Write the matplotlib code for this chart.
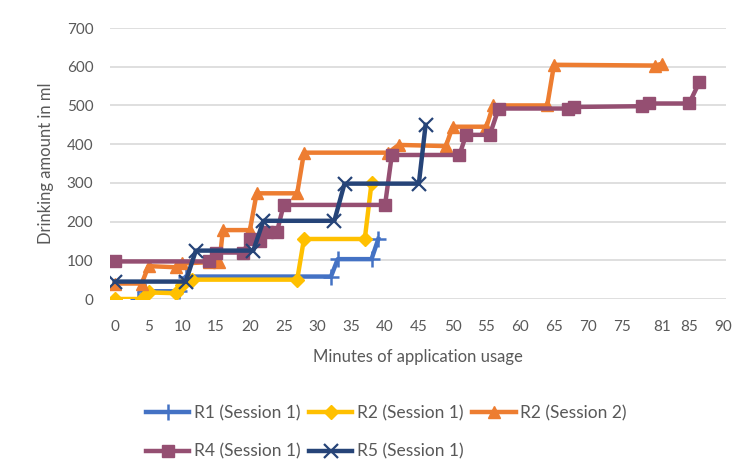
import matplotlib
matplotlib.use("Agg")
import matplotlib.pyplot as plt

# ---- data ----
r1_x = [3.5, 4.5, 9.5, 10.5, 32, 33, 38, 39]
r1_y = [0, 20, 20, 58, 58, 103, 103, 155]

r2s1_x = [0, 4, 5, 9, 10, 11.5, 27, 28, 37, 38]
r2s1_y = [0, 0, 17, 15, 35, 50, 50, 155, 155, 300]

r2s2_x = [0, 4, 5, 9, 10, 14, 15.5, 16, 20, 21, 27, 28, 40.5, 42, 49, 50, 55, 56, 64, 65, 80, 81]
r2s2_y = [40, 40, 85, 82, 92, 95, 95, 178, 178, 273, 273, 378, 378, 398, 395, 445, 445, 500, 500, 605, 603, 608]

r4_x = [0, 14, 15, 19, 20, 21.5, 22.5, 24, 25, 40, 41, 51, 52, 55.5, 56.8, 67, 68, 78, 79, 85, 86.5]
r4_y = [97, 97, 120, 120, 155, 150, 173, 173, 243, 243, 372, 372, 424, 424, 492, 492, 496, 498, 505, 505, 560]

r5_x = [0, 10.5, 12, 20.5, 22, 32.5, 34, 45, 46]
r5_y = [45, 45, 125, 125, 202, 202, 298, 298, 450]

x_ticks = [0, 5, 10, 15, 20, 25, 30, 35, 40, 45, 50, 55, 60, 65, 70, 75, 81, 85, 90]
y_ticks = [0, 100, 200, 300, 400, 500, 600, 700]

labels = ["R1 (Session 1)", "R2 (Session 1)", "R2 (Session 2)", "R4 (Session 1)", "R5 (Session 1)"]

plt.rcParams['font.family'] = ['Lato', 'DejaVu Sans']
txt = '#595959'

W, H = 747, 473
fig = plt.figure(figsize=(W/100, H/100), dpi=100)
ax = fig.add_axes([110/W, 1-299/H, 616/W, 271/H])

lw = 3.2
h1, = ax.plot(r1_x, r1_y, color='#4472C4', lw=lw, marker='+', ms=11, mew=1.8, label=labels[0], zorder=3)
h2, = ax.plot(r2s1_x, r2s1_y, color='#FFC000', lw=lw, marker='D', ms=7, label=labels[1], zorder=4)
h3, = ax.plot(r2s2_x, r2s2_y, color='#ED7D31', lw=lw, marker='^', ms=9, label=labels[2], zorder=5)
h4, = ax.plot(r4_x, r4_y, color='#954F72', lw=lw, marker='s', ms=9, label=labels[3], zorder=6)
h5, = ax.plot(r5_x, r5_y, color='#264478', lw=lw, marker='x', ms=10, mew=1.6, label=labels[4], zorder=7)

ax.set_xlim(-0.7, 90.45)
ax.set_ylim(0, 700)
ax.set_xticks(x_ticks)
ax.set_yticks(y_ticks)
ax.tick_params(length=0, labelsize=11, colors=txt)
ax.tick_params(axis='x', pad=15)
ax.tick_params(axis='y', pad=12)
for s in ax.spines.values():
    s.set_visible(False)
ax.yaxis.grid(True, color='#D9D9D9', lw=1.2)
ax.set_axisbelow(True)

ax.set_xlabel("Minutes of application usage", fontsize=12, color=txt, labelpad=11)
ax.set_ylabel("Drinking amount in ml", fontsize=12, color=txt, labelpad=9)

fig.legend([h1, h4, h2, h5, h3], [labels[0], labels[3], labels[1], labels[4], labels[2]],
           ncol=3, loc='upper left', bbox_to_anchor=(146/W, 1-405/H),
           frameon=False, fontsize=12.5, handlelength=2.5, handletextpad=0.25,
           columnspacing=0.5, labelspacing=1.3, labelcolor=txt,
           borderpad=0, borderaxespad=0)

fig.savefig("out.png", dpi=100)
